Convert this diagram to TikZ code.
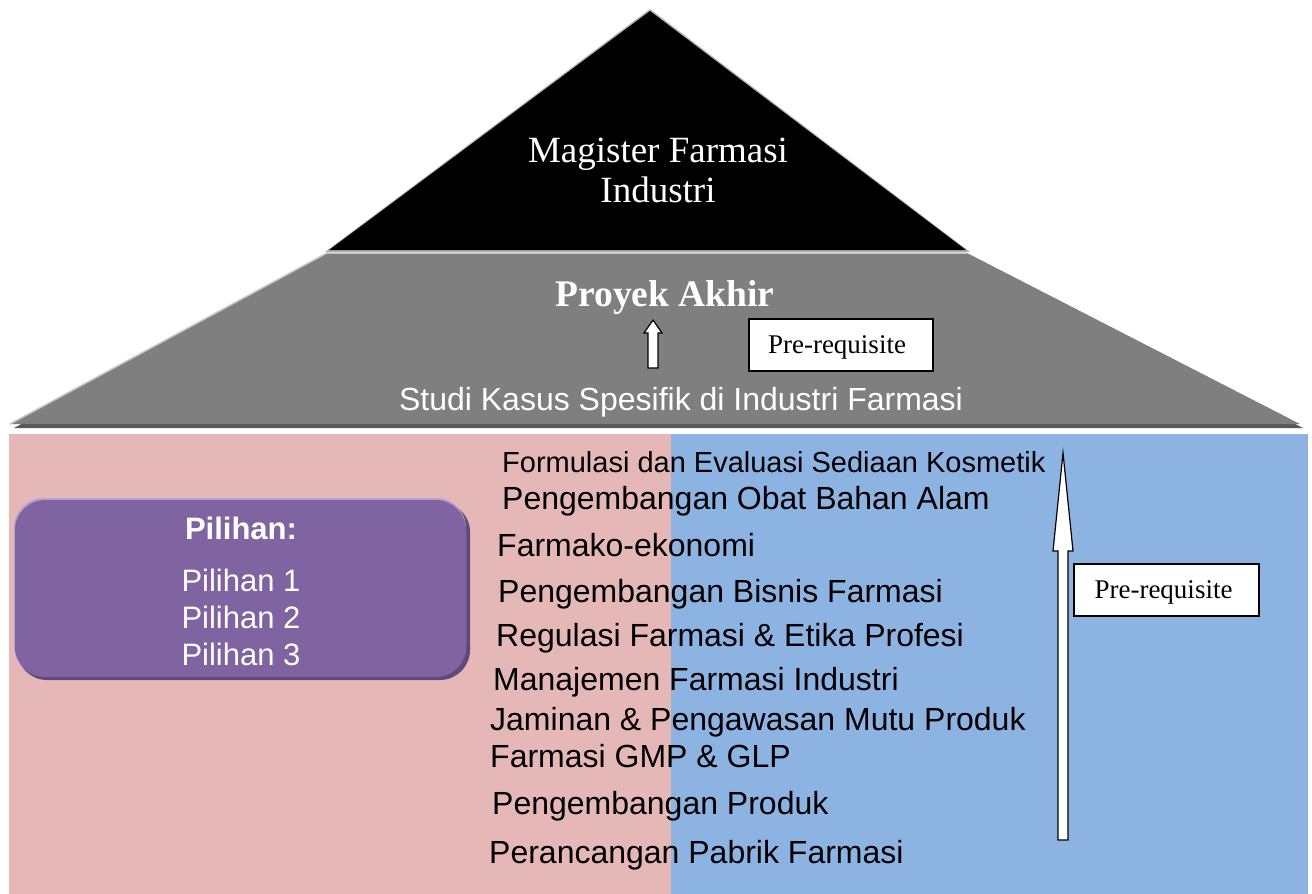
\documentclass[tikz,border=0pt]{standalone}
\usepackage{fontspec}
\setmainfont{Liberation Serif}
\setsansfont{Liberation Sans}
\definecolor{pinkbg}{HTML}{E5B8B7}
\definecolor{bluebg}{HTML}{8DB3E2}
\definecolor{purplebox}{HTML}{8064A2}
\definecolor{purpledark}{HTML}{5F497A}
\definecolor{purplelight}{HTML}{B3A2C7}
\definecolor{midgray}{HTML}{7F7F7F}
\tikzset{
  listitem/.style={anchor=base west, inner sep=0pt, font=\sffamily\fontsize{32}{38}\selectfont, text=black},
  pil/.style={anchor=base, inner sep=0pt, font=\sffamily\fontsize{31}{36}\selectfont, text=white},
  prebox/.style={draw=black, line width=1.2pt, fill=white, inner sep=0pt},
  pretext/.style={inner sep=0pt, font=\rmfamily\fontsize{27}{30}\selectfont},
  blockarrow/.style={draw=black, line width=1.2pt, fill=white, line join=miter}
}
\begin{document}
\begin{tikzpicture}[x=1pt,y=-1pt]
\useasboundingbox (0,0) rectangle (1312,894);
% bottom band
\fill[pinkbg] (9,434) rectangle (671,894);
\fill[bluebg] (671,434) rectangle (1308,894);
% gray trapezoid with shadow
\fill[gray!70!black] (329,256) -- (969,256) -- (1303,428) -- (14,428) -- cycle;
\fill[midgray] (327,253) -- (967,253) -- (1300,424) -- (10,424) -- cycle;
\draw[gray!45, line width=1.5pt] (10,424) -- (327,253) -- (967,253);
% black triangle
\fill[gray!60] (325,252) -- (650,9) -- (970,252) -- cycle;
\fill[black] (329,250) -- (650,11) -- (966,250) -- cycle;
% texts in pyramid
\node[font=\rmfamily\fontsize{37}{40}\selectfont, text=white, align=center, inner sep=0pt] (mag) at (658,170) {Magister Farmasi\\Industri};
\node[font=\rmfamily\bfseries\fontsize{37.5}{40}\selectfont, text=white, inner sep=0pt] (proyek) at (665,298) {Proyek Akhir};
\node[font=\sffamily\fontsize{32}{38}\selectfont, text=white, inner sep=0pt] (studi) at (681,402) {Studi Kasus Spesifik di Industri Farmasi};
\node[prebox, minimum width=184pt, minimum height=52pt] (pre1) at (841,345) {};
\node[pretext] (pre1t) at (837,347) {Pre-requisite};
% small block arrow
\coordinate (sa) at (653,320);
\draw[blockarrow] (sa) -- ++(9,13) -- ++(-4,0) -- ++(0,35) -- ++(-10,0) -- ++(0,-35) -- ++(-4,0) -- cycle;
% purple box
\fill[purpledark, rounded corners=30pt] (17,502) rectangle (470,680);
\fill[purplelight, rounded corners=30pt] (14,498) rectangle (466,676);
\fill[purplebox, rounded corners=30pt] (15,500) rectangle (466,677);
\node[pil, font=\sffamily\bfseries\fontsize{31}{36}\selectfont] (pilh) at (241,539) {Pilihan:};
\node[pil] (p1) at (241,591) {Pilihan 1};
\node[pil] (p2) at (241,628) {Pilihan 2};
\node[pil] (p3) at (241,665) {Pilihan 3};
% list
\node[listitem, font=\sffamily\fontsize{29}{34}\selectfont] (l1) at (502,472) {Formulasi dan Evaluasi Sediaan Kosmetik};
\node[listitem] (l2) at (502,509) {Pengembangan Obat Bahan Alam};
\node[listitem] (l3) at (497,556) {Farmako-ekonomi};
\node[listitem] (l4) at (498,602) {Pengembangan Bisnis Farmasi};
\node[listitem] (l5) at (496,646) {Regulasi Farmasi \& Etika Profesi};
\node[listitem] (l6) at (493,690) {Manajemen Farmasi Industri};
\node[listitem] (l7) at (490,730) {Jaminan \& Pengawasan Mutu Produk};
\node[listitem] (l8) at (490,767) {Farmasi GMP \& GLP};
\node[listitem] (l9) at (492,814) {Pengembangan Produk};
\node[listitem] (l10) at (489,863) {Perancangan Pabrik Farmasi};
% big block arrow
\coordinate (ba) at (1063,453);
\draw[blockarrow] (ba) -- (1073,551) -- (1068,551) -- (1068,840) -- (1058,840) -- (1058,551) -- (1053,551) -- cycle;
\node[prebox, minimum width=185pt, minimum height=52pt] (pre2) at (1166.5,590) {};
\node[pretext] (pre2t) at (1163.5,592) {Pre-requisite};
\end{tikzpicture}
\end{document}
